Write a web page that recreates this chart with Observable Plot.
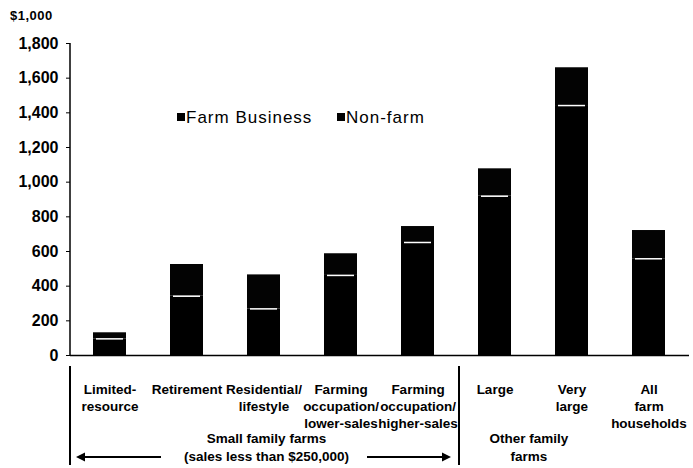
<!DOCTYPE html>
<html><head><meta charset="utf-8">
<script src="https://cdn.jsdelivr.net/npm/d3@7"></script>
<script src="https://cdn.jsdelivr.net/npm/@observablehq/plot@0.6"></script>
<style>
body{margin:0;background:#fff;}
#chart svg{display:block;}
</style></head><body><div id="chart"></div>
<script>
const categories = [
  "Limited-\nresource",
  "Retirement",
  "Residential/\nlifestyle",
  "Farming\noccupation/\nlower-sales",
  "Farming\noccupation/\nhigher-sales",
  "Large",
  "Very\nlarge",
  "All\nfarm\nhouseholds"
];
const farmBusiness = [96, 342, 269, 462, 652, 919, 1442, 558];
const nonFarm = [35, 183, 196, 125, 92, 158, 218, 163];
const seriesNames = ["Farm Business", "Non-farm"];
const seriesColors = ["#000000", "#030303"];
const yTicks = [0, 200, 400, 600, 800, 1000, 1200, 1400, 1600, 1800];
const unitLabel = "$1,000";
const groupLabels = [
  {lines: ["Small family farms", "(sales less than $250,000)"], from: 0, to: 4, arrows: true},
  {lines: ["Other family", "farms"], from: 5, to: 6, arrows: false}
];

const data = categories.flatMap((c, i) => [
  {category: c, series: seriesNames[0], value: farmBusiness[i]},
  {category: c, series: seriesNames[1], value: nonFarm[i]}
]);

const FONT = "'Liberation Sans', Arial, Helvetica, sans-serif";

function annotations(index, scales, values, dims) {
  const x = scales.x, y = scales.y;
  const step = x(categories[1]) - x(categories[0]);
  const bw = typeof x.bandwidth === "function" ? x.bandwidth() : step * 0.43;
  const bandStart = i => x(categories[i]) - (step - bw) / 2;
  const bandEnd = i => x(categories[i]) + bw + (step - bw) / 2;
  const bandMid = i => x(categories[i]) + bw / 2;
  const g = d3.create("svg:g").attr("font-family", FONT).attr("text-anchor", "start");
  const left = dims.marginLeft;
  const y0 = y(0), yTop = y(yTicks[yTicks.length - 1]);

  // y axis line
  g.append("line").attr("x1", left).attr("x2", left).attr("y1", yTop).attr("y2", y0)
    .attr("stroke", "#000").attr("stroke-width", 1.5);

  // unit label
  g.append("text").attr("x", 10).attr("y", yTop - 28).attr("dy", "0.35em")
    .attr("text-anchor", "start")
    .attr("font-size", 13).attr("font-weight", "bold").attr("letter-spacing", 0.5)
    .text(unitLabel);

  // legend
  const lx = left + 107, ly = dims.marginTop + 74;
  let cx = lx;
  seriesNames.forEach((name, i) => {
    g.append("rect").attr("x", cx).attr("y", ly - 4).attr("width", 8).attr("height", 8)
      .attr("fill", seriesColors[i]);
    g.append("text").attr("x", cx + 9).attr("y", ly).attr("dy", "0.35em")
      .attr("text-anchor", "start")
      .attr("font-size", 17).attr("letter-spacing", 1).text(name);
    cx += 160;
  });

  // separators
  const sepTop = y0 + 11, sepBot = dims.height - 3;
  const seps = [bandStart(0) - 1, (bandEnd(4) + bandStart(5)) / 2 + 3];
  seps.forEach(sx => {
    g.append("line").attr("x1", sx).attr("x2", sx).attr("y1", sepTop).attr("y2", sepBot)
      .attr("stroke", "#000").attr("stroke-width", 2);
  });

  // group labels
  groupLabels.forEach(gl => {
    const cxm = (bandMid(gl.from) + bandMid(gl.to)) / 2 + (gl.arrows ? 3 : -4);
    gl.lines.forEach((t, k) => {
      g.append("text").attr("x", cxm).attr("y", y0 + 83 + k * 18).attr("dy", "0.35em")
        .attr("text-anchor", "middle").attr("font-size", 13.5).attr("font-weight", "bold")
        .text(t);
    });
    if (gl.arrows) {
      const ay = y0 + 102;
      const s = bandStart(gl.from), e = bandEnd(gl.to);
      const arrow = (x1, x2) => {
        const dir = Math.sign(x2 - x1);
        g.append("line").attr("x1", x1).attr("x2", x2 - dir * 7).attr("y1", ay).attr("y2", ay)
          .attr("stroke", "#000").attr("stroke-width", 2);
        g.append("path").attr("d", `M${x2},${ay}L${x2 - dir * 9},${ay - 4.5}L${x2 - dir * 9},${ay + 4.5}Z`)
          .attr("fill", "#000");
      };
      arrow(s + 90, s + 5);
      arrow(e - 89, e - 5);
    }
  });
  return g.node();
}

const chart = Plot.plot({
  width: 693,
  height: 468,
  marginTop: 43,
  marginBottom: 113,
  marginLeft: 70,
  marginRight: 4,
  style: {fontFamily: FONT, background: "#fff", color: "#000"},
  x: {domain: categories, paddingInner: 0.57, paddingOuter: 0.285, label: null},
  y: {domain: [0, 1800], label: null},
  color: {domain: seriesNames, range: seriesColors},
  marks: [
    Plot.ruleY([0], {stroke: "#000", strokeWidth: 1.5}),
    Plot.barY(data, {x: "category", y: "value", fill: "series"}),
    Plot.tickY(data.filter(d => d.series === seriesNames[0]), {x: "category", y: "value", stroke: "#fff", strokeWidth: 1.5, inset: 3}),
    Plot.axisY({ticks: yTicks, tickFormat: d3.format(","), tickSize: 4, tickPadding: 8, fontSize: 16, fontWeight: "bold", label: null}),
    Plot.axisX({tickSize: 0, tickPadding: 27, fontSize: 13.5, fontWeight: "bold", lineHeight: 1.25, label: null}),
    annotations
  ]
});
document.getElementById("chart").appendChild(chart);
</script>
</body></html>
